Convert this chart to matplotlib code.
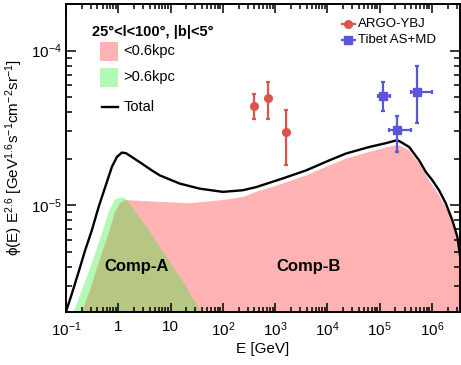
import numpy as np
import matplotlib
matplotlib.use("Agg")
import matplotlib.pyplot as plt
from matplotlib.patches import Rectangle
from matplotlib.lines import Line2D
from matplotlib import ticker

plt.rcParams['font.family'] = ['Liberation Sans', 'DejaVu Sans']
plt.rcParams['mathtext.fontset'] = 'custom'
plt.rcParams['mathtext.rm'] = 'Liberation Sans'
plt.rcParams['mathtext.it'] = 'Liberation Sans:italic'
plt.rcParams['mathtext.bf'] = 'Liberation Sans:bold'

# total model (black line)
total_E = [0.1, 0.130, 0.175, 0.233, 0.313, 0.421, 0.562, 0.755, 0.940, 1.17, 1.40,
           1.82, 2.82, 4.38, 6.22, 15.0, 36.1, 100, 242, 436, 1400, 3930, 1.09e4,
           2.28e4, 6.34e4, 1.32e5, 2.05e5, 2.37e5, 3.67e5, 5.70e5, 7.66e5, 1.02e6,
           1.37e6, 1.84e6, 2.46e6, 3.07e6, 3.40e6, 3.63e6]
total_phi = [2.05e-6, 2.69e-6, 3.72e-6, 5.13e-6, 6.90e-6, 9.75e-6, 1.31e-5, 1.77e-5,
             2.05e-5, 2.19e-5, 2.17e-5, 2.05e-5, 1.86e-5, 1.68e-5, 1.56e-5, 1.38e-5,
             1.28e-5, 1.22e-5, 1.25e-5, 1.31e-5, 1.49e-5, 1.68e-5, 1.95e-5, 2.16e-5,
             2.38e-5, 2.52e-5, 2.62e-5, 2.60e-5, 2.38e-5, 1.95e-5, 1.64e-5, 1.45e-5,
             1.25e-5, 1.03e-5, 8.0e-6, 6.25e-6, 4.88e-6, 4.27e-6]

# <0.6kpc component (red band)
near_E = [0.170, 0.202, 0.291, 0.421, 0.653, 0.873, 1.09, 1.36, 6.22, 23.2, 100, 242,
          436, 1400, 3930, 1.09e4, 2.28e4, 6.34e4, 1.32e5, 2.05e5, 2.37e5, 3.67e5,
          5.70e5, 8.85e5, 1.37e6, 2.13e6, 2.86e6, 3.30e6, 3.98e6]
near_phi = [1.58e-6, 2.05e-6, 2.83e-6, 4.21e-6, 6.56e-6, 9.06e-6, 1.03e-5, 1.08e-5,
            1.05e-5, 1.03e-5, 1.08e-5, 1.13e-5, 1.22e-5, 1.38e-5, 1.56e-5, 1.81e-5,
            2.00e-5, 2.21e-5, 2.36e-5, 2.44e-5, 2.44e-5, 2.26e-5, 1.86e-5, 1.45e-5,
            1.16e-5, 8.83e-6, 6.56e-6, 4.88e-6, 3.55e-6]

# >0.6kpc component (green band)
far_E = [0.112, 0.140, 0.202, 0.313, 0.486, 0.653, 0.873, 1.26, 1.44, 3.47, 8.36,
         20.1, 36.1, 50.1]
far_phi = [1.58e-6, 2.05e-6, 2.83e-6, 4.21e-6, 6.56e-6, 9.06e-6, 1.10e-5, 1.12e-5,
           1.08e-5, 7.24e-6, 4.63e-6, 2.97e-6, 2.10e-6, 1.70e-6]

# ARGO-YBJ
argo_E = [387, 748, 1650]
argo_phi = [4.41e-5, 4.90e-5, 2.96e-5]
argo_lo = [3.59e-5, 3.59e-5, 1.81e-5]
argo_hi = [5.20e-5, 6.22e-5, 4.10e-5]

# Tibet AS+MD
tibet_E = [1.17e5, 2.17e5, 5.2e5]
tibet_Elo = [9.3e4, 1.5e5, 4.0e5]
tibet_Ehi = [1.58e5, 4.0e5, 1.0e6]
tibet_phi = [5.12e-5, 3.05e-5, 5.36e-5]
tibet_lo = [4.04e-5, 2.2e-5, 3.4e-5]
tibet_hi = [6.22e-5, 3.8e-5, 7.9e-5]

red_fill = '#ffb3b3'
green_fill = '#b3f9b3'
olive_fill = '#b6c784'
argo_col = '#d9534f'
tibet_col = '#5a55d9'

fig = plt.figure(figsize=(4.61, 3.65), dpi=100)
ax = fig.add_axes([66/461, 53/365, 394/461, 308/365])

floor = 1e-8
ax.fill_between(far_E, far_phi, floor, color=green_fill, lw=0)
red = ax.fill_between(near_E, near_phi, floor, color=red_fill, lw=0)
olive = ax.fill_between(far_E, far_phi, floor, color=olive_fill, lw=0)
olive.set_clip_path(red.get_paths()[0], red.get_transform())

ax.plot(total_E, total_phi, color='black', lw=1.7, solid_joinstyle='round')

a_err = [np.array(argo_phi) - np.array(argo_lo), np.array(argo_hi) - np.array(argo_phi)]
ax.errorbar(argo_E, argo_phi, yerr=a_err, fmt='o', color=argo_col, ms=5.5,
            elinewidth=1.6, capsize=1.2, capthick=1.6)
t_xerr = [np.array(tibet_E) - np.array(tibet_Elo), np.array(tibet_Ehi) - np.array(tibet_E)]
t_yerr = [np.array(tibet_phi) - np.array(tibet_lo), np.array(tibet_hi) - np.array(tibet_phi)]
ax.errorbar(tibet_E, tibet_phi, xerr=t_xerr, yerr=t_yerr, fmt='s', color=tibet_col,
            ms=5.5, elinewidth=1.6, capsize=1.2, capthick=1.6)

ax.set_xscale('log')
ax.set_yscale('log')
ax.set_xlim(0.1, 3.45e6)
ax.set_ylim(2.04e-6, 2.0e-4)

ax.set_xticks([0.1, 1, 10, 1e2, 1e3, 1e4, 1e5, 1e6],
              labels=['10$^{-1}$', '1', '10', '10$^{2}$', '10$^{3}$', '10$^{4}$',
                      '10$^{5}$', '10$^{6}$'])
ax.set_yticks([1e-5, 1e-4], labels=['10$^{-5}$', '10$^{-4}$'])
ax.xaxis.set_minor_locator(ticker.LogLocator(subs=np.arange(2, 10), numticks=100))
ax.yaxis.set_minor_locator(ticker.LogLocator(subs=np.arange(2, 10), numticks=100))
ax.xaxis.set_minor_formatter(ticker.NullFormatter())
ax.yaxis.set_minor_formatter(ticker.NullFormatter())
ax.tick_params(which='both', direction='in', top=True, right=True, labelsize=11, width=1.1)
ax.tick_params(axis='x', which='major', length=6.5, pad=6)
ax.tick_params(axis='x', which='minor', length=3.5)
ax.tick_params(axis='y', which='major', length=7.5, pad=3)
ax.tick_params(axis='y', which='minor', length=4.5)
for s in ax.spines.values():
    s.set_linewidth(1.4)

ax.set_xlabel('E [GeV]', fontsize=11, labelpad=2)
ax.set_ylabel('ϕ(E) E$^{2.6}$ [GeV$^{1.6}$s$^{-1}$cm$^{-2}$sr$^{-1}$]', fontsize=11, labelpad=4)

ax.text(2.26, 4.04e-6, 'Comp-A', fontsize=12, weight='bold', ha='center', va='center')
ax.text(4340, 4.04e-6, 'Comp-B', fontsize=12, weight='bold', ha='center', va='center')

# left legend
ax.text(0.066, 0.909, '25°<l<100°, |b|<5°', fontsize=10.5, weight='bold',
        va='center', transform=ax.transAxes)
ax.add_patch(Rectangle((0.086, 0.815), 0.046, 0.062, transform=ax.transAxes,
                       facecolor=red_fill, edgecolor='none'))
ax.add_patch(Rectangle((0.086, 0.731), 0.046, 0.062, transform=ax.transAxes,
                       facecolor=green_fill, edgecolor='none'))
ax.add_line(Line2D([0.091, 0.132], [0.664, 0.664], transform=ax.transAxes,
                   color='black', lw=1.7))
ax.text(0.145, 0.846, '<0.6kpc', fontsize=10.5, va='center', transform=ax.transAxes)
ax.text(0.145, 0.762, '>0.6kpc', fontsize=10.5, va='center', transform=ax.transAxes)
ax.text(0.145, 0.664, 'Total', fontsize=10.5, va='center', transform=ax.transAxes)

# right legend
ax.add_line(Line2D([0.700, 0.734], [0.935, 0.935], transform=ax.transAxes,
                   color=argo_col, lw=1.6))
ax.plot([0.717], [0.935], 'o', color=argo_col, ms=5.5, transform=ax.transAxes)
ax.add_line(Line2D([0.700, 0.734], [0.883, 0.883], transform=ax.transAxes,
                   color=tibet_col, lw=1.6))
ax.plot([0.717], [0.883], 's', color=tibet_col, ms=5.5, transform=ax.transAxes)
ax.text(0.741, 0.935, 'ARGO-YBJ', fontsize=9.5, va='center', transform=ax.transAxes)
ax.text(0.741, 0.883, 'Tibet AS+MD', fontsize=9.5, va='center', transform=ax.transAxes)

fig.savefig('out.png', dpi=100)
